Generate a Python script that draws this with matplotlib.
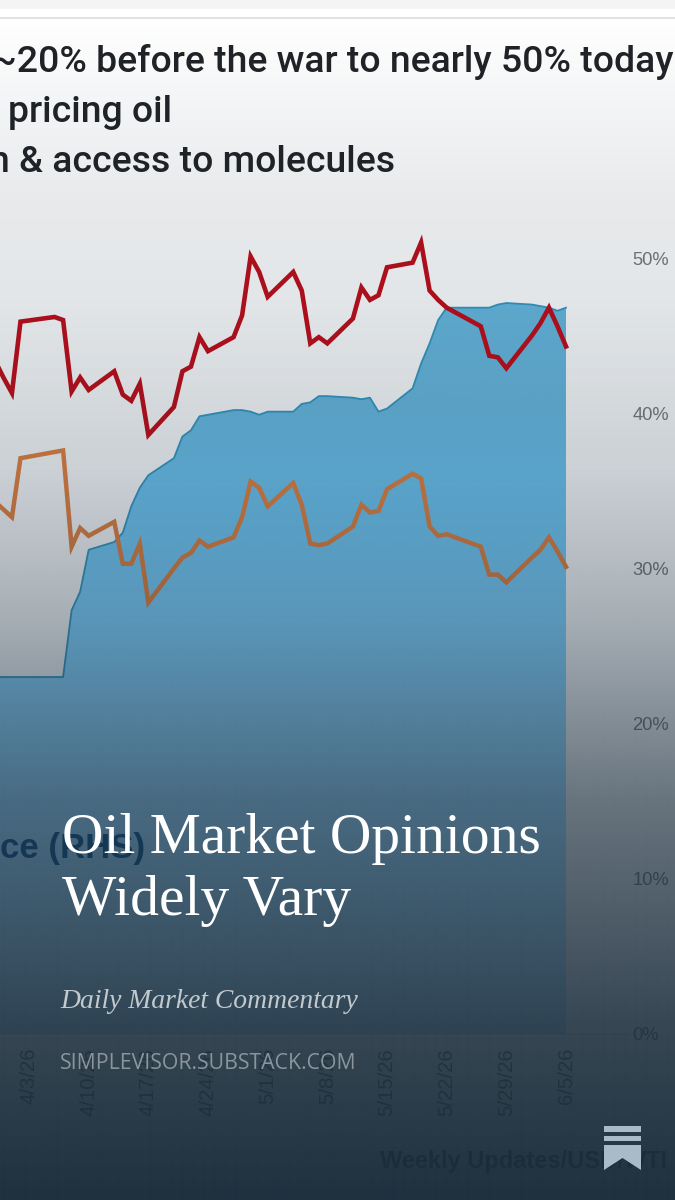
import numpy as np
import pandas as pd
import matplotlib
matplotlib.use("Agg")
import matplotlib.pyplot as plt
import matplotlib.dates as mdates
from matplotlib.colors import to_rgb
from matplotlib.patches import Polygon, Rectangle

W, H = 675, 1200

# trading days, holidays dropped
dates = pd.bdate_range("2026-03-30", "2026-06-05").drop(pd.to_datetime(["2026-04-03", "2026-05-25"]))

red = [43.4, 42.3, 41.3, 45.9, 46.2, 46.0, 41.4, 42.3, 41.5, 42.7, 41.2, 40.8,
       41.9, 38.6, 40.4, 42.7, 43.0, 44.9, 44.0, 44.9, 46.3, 50.1, 49.1, 47.5,
       49.1, 47.9, 44.5, 44.9, 44.5, 46.1, 48.1, 47.3, 47.6, 49.4, 49.7, 51.0,
       47.9, 47.3, 46.8, 45.6, 43.7, 43.6, 42.9, 45.0, 45.8, 46.8, 45.6, 44.3]
orange = [34.3, 33.8, 33.3, 37.1, 37.5, 37.6, 31.4, 32.6, 32.1, 33.0, 30.3, 30.3,
          31.6, 27.8, 30.0, 30.7, 31.0, 31.8, 31.4, 32.0, 33.3, 35.6, 35.2, 34.0,
          35.5, 34.1, 31.6, 31.5, 31.6, 32.7, 34.1, 33.6, 33.7, 35.1, 36.1, 35.8,
          32.7, 32.1, 32.2, 31.4, 29.6, 29.6, 29.1, 30.7, 31.2, 32.0, 31.1, 30.1]
blue = [23.0, 23.0, 23.0, 23.0, 23.0, 23.0, 27.3, 28.5, 31.2, 31.7, 32.3, 34.0,
        35.2, 36.0, 37.1, 38.5, 38.9, 39.8, 39.9, 40.2, 40.2, 40.1, 39.9, 40.1,
        40.1, 40.6, 40.7, 41.1, 41.1, 41.0, 40.9, 41.0, 40.1, 40.3, 41.6, 43.2,
        44.5, 46.0, 46.8, 46.8, 46.8, 47.0, 47.1, 47.0, 46.9, 46.8, 46.6, 46.8]

tick_dates = pd.date_range("2026-04-03", "2026-06-05", freq="7D")
tick_labels = [f"{d.month}/{d.day}/{d.strftime('%y')}" for d in tick_dates]
y_ticks = [0, 10, 20, 30, 40, 50]

headline = ["~20% before the war to nearly 50% today", "pricing oil", "n & access to molecules"]


def ramp(pos, stops, colors):
    rgb = np.array([to_rgb(c) for c in colors])
    return np.stack([np.interp(pos, stops, rgb[:, i]) for i in range(3)], axis=1)


fig = plt.figure(figsize=(W / 100, H / 100), dpi=100)

# full-figure axes in pixel coordinates for the background
bg = fig.add_axes([0, 0, 1, 1], zorder=0)
ys = np.arange(H)
grad = ramp(ys, [0, 19, 100, 200, 300, 470, 1200],
            ["#ffffff", "#ffffff", "#f4f5f6", "#e8eaec", "#e3e6e8", "#dde1e5", "#d8dde2"])
bg.imshow(grad[:, None, :], extent=[0, W, H, 0], aspect="auto", interpolation="bilinear")
bg.add_patch(Rectangle((0, 0), W, 9, color="#f4f4f4", lw=0))
bg.add_patch(Rectangle((0, 17), W, 2, color="#e2e2e2", lw=0))
bg.set_xlim(0, W)
bg.set_ylim(H, 0)
bg.axis("off")

# chart axes, placed so 0% and 50% land on the picture's gridlines
x_4_3 = mdates.date2num(pd.Timestamp("2026-04-03"))
px_per_day = (566 - 29) / 63
ax_right = 628
y0_px, px_per_pct = 1034, 15.52
top_pct = 60
ax = fig.add_axes([0, 1 - y0_px / H, ax_right / W, top_pct * px_per_pct / H], zorder=1)
ax.patch.set_alpha(0)
xlim = (x_4_3 - 29 / px_per_day, x_4_3 + (ax_right - 29) / px_per_day)

# area fill: gets lighter lower down so it melts into the dark fade
pct = np.linspace(top_pct, 0, 600)
fill_grad = ramp(pct, [0, 0.9, 15.1, 26.7, 34.4, 40.9],
                 ["#a8c6de", "#a8d0ea", "#8cc8ee", "#72bfea", "#62b2dc", "#5da7cc"])
area = ax.fill_between(dates, blue, 0, facecolor="none", lw=0, zorder=2)
im = ax.imshow(fill_grad[:, None, :], extent=[xlim[0], xlim[1], 0, top_pct], aspect="auto", zorder=2)
im.set_clip_path(area.get_paths()[0], transform=ax.transData)
ax.plot(dates, blue, color="#2f8bb2", lw=1.3, zorder=3)
ax.plot(dates, orange, color="#c9763f", lw=3.2, zorder=4, solid_joinstyle="miter")
ax.plot(dates, red, color="#ac0f1c", lw=3.3, zorder=5, solid_joinstyle="miter")

ax.set_xlim(*xlim)
ax.set_ylim(0, top_pct)

for s in ["top", "left", "right"]:
    ax.spines[s].set_visible(False)
ax.spines["bottom"].set_color("#8f979c")
ax.spines["bottom"].set_linewidth(0.3)

ax.set_xticks(tick_dates)
ax.set_xticklabels(tick_labels, rotation=90, family="Liberation Sans", fontsize=14.7, color="#5b6165")
ax.yaxis.tick_right()
ax.set_yticks(y_ticks)
ax.set_yticklabels([f"{v}%" for v in y_ticks], family="Liberation Sans", fontsize=13.2, color="#6b7073")
ax.tick_params(axis="x", length=0, pad=10)
ax.tick_params(axis="y", length=0, pad=3)

# chart text that sits under the dark fade
ax.text(0, 858, "ce (RHS)", transform=bg.transData, family="Liberation Sans", weight="bold",
        fontsize=25, color="#0a4f85", clip_on=False)
ax.text(380, 1168, "Weekly Updates/USD/WTI", transform=bg.transData, family="Liberation Sans",
        weight="bold", fontsize=17, color="#34414b", clip_on=False)

# dark fade over everything, then the card text on top
top = fig.add_axes([0, 0, 1, 1], zorder=2)
top.patch.set_alpha(0)
alpha = np.interp(ys, [300, 470, 620, 800, 1020, 1200], [0, 0.09, 0.28, 0.6, 0.85, 0.98])
fade = np.zeros((H, 1, 4))
fade[:, :, :3] = to_rgb("#1a2c3a")
fade[:, 0, 3] = alpha
top.imshow(fade, extent=[0, W, H, 0], aspect="auto", interpolation="bilinear")
top.set_xlim(0, W)
top.set_ylim(H, 0)
top.axis("off")

head_kw = dict(family="Roboto", weight="medium", fontsize=26.9, color="#1f2327")
top.text(-8, 72, headline[0], **head_kw)
top.text(8, 122, headline[1], **head_kw)
top.text(-11, 172, headline[2], **head_kw)

top.text(62, 853, "Oil Market Opinions", family="Liberation Serif", fontsize=41.4, color="white")
top.text(62, 915, "Widely Vary", family="Liberation Serif", fontsize=41.4, color="white")
top.text(60, 1008, "Daily Market Commentary", family="Liberation Serif", style="italic",
         fontsize=19.9, color="#c3c9cd")
top.text(60, 1069, "SIMPLEVISOR.SUBSTACK.COM", family="Open Sans", fontsize=15.3, color="#8b959c")

# substack bookmark
mark = "#a9bac8"
top.add_patch(Rectangle((604, 1126), 37, 6, color=mark, lw=0))
top.add_patch(Rectangle((604, 1135.5), 37, 5.5, color=mark, lw=0))
top.add_patch(Polygon([(604, 1145), (641, 1145), (641, 1170), (622.5, 1158), (604, 1170)], color=mark, lw=0))

fig.savefig("out.png", dpi=100)
